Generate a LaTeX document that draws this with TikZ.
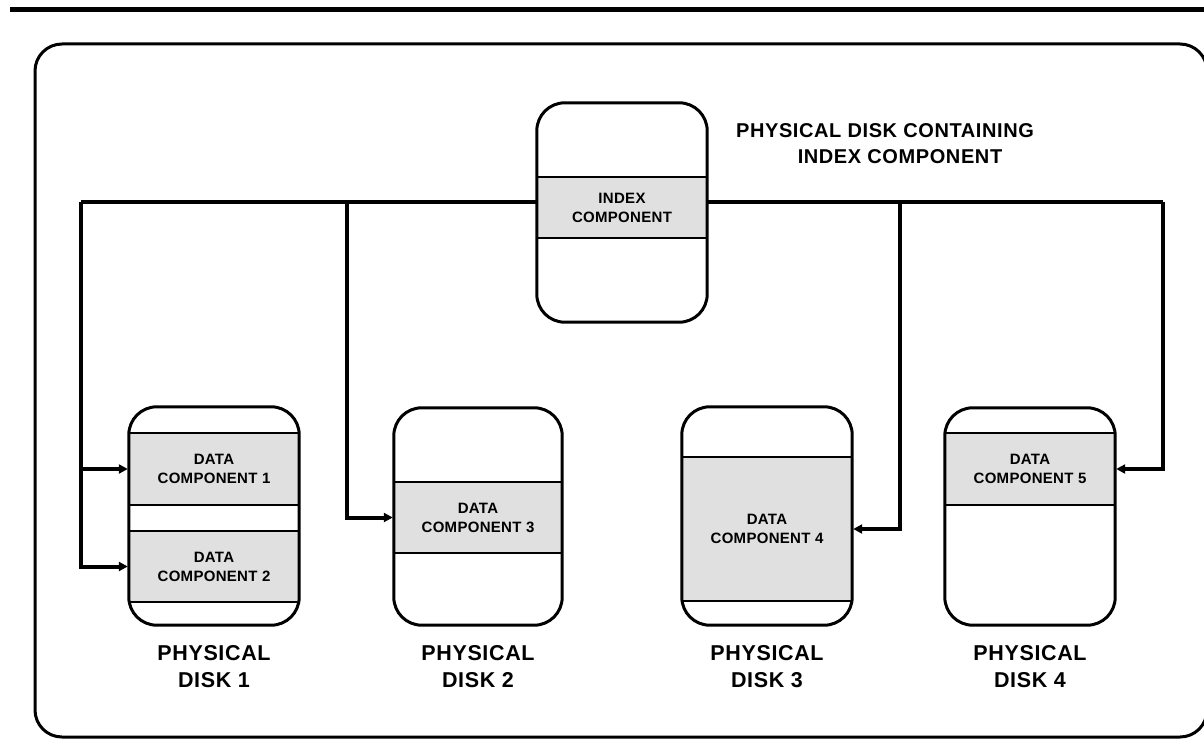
\documentclass[tikz,border=0pt]{standalone}
\usepackage{fontspec}
\setmainfont{Liberation Sans}
\usetikzlibrary{arrows.meta}
\definecolor{bandgray}{RGB}{224,224,224}
\tikzset{
  diskbox/.style={rectangle, rounded corners=28pt, minimum width=170pt, inner sep=0pt, draw=none},
  diskline/.style={line width=3pt, rounded corners=28pt},
  band/.style={rectangle, fill=bandgray, draw=black, line width=1.3pt, minimum width=174pt, inner sep=0pt, align=center,
    font=\fontsize{15}{19}\selectfont\bfseries\addfontfeature{LetterSpace=2}},
  disklabel/.style={align=center, font=\fontsize{21.5}{27}\selectfont\bfseries\addfontfeature{LetterSpace=3}},
  titlelabel/.style={font=\fontsize{20}{26}\selectfont\bfseries\addfontfeature{LetterSpace=3}},
  bus/.style={line width=4pt},
  busarrow/.style={line width=4pt, -{Triangle[length=9pt,width=9pt]}, shorten >=1pt},
}
\begin{document}
\begin{tikzpicture}[x=1pt,y=-1pt]
\useasboundingbox (0,0) rectangle (1204,749);
% top rule
\draw[line width=5pt] (10,9.5) -- (1210,9.5);
% outer frame
\draw[line width=3pt, rounded corners=27pt] (35,44) rectangle (1207,737);

% disk boxes (geometry)
\node[diskbox, minimum height=219pt] (dix) at (622,212.5) {};
\node[diskbox, minimum height=218pt] (d1) at (214,516) {};
\node[diskbox, minimum height=217pt, minimum width=168pt] (d2) at (478,516.5) {};
\node[diskbox, minimum height=218pt] (d3) at (767,516) {};
\node[diskbox, minimum height=217pt] (d4) at (1030,516.5) {};

% bands clipped to disks
\begin{scope}
\clip[rounded corners=28pt] (dix.north west) rectangle (dix.south east);
\node[band, minimum height=61pt] (ix) at (622,207.5) {INDEX\\COMPONENT};
\end{scope}
\begin{scope}
\clip[rounded corners=28pt] (d1.north west) rectangle (d1.south east);
\node[band, minimum height=72pt] (b1) at (214,469) {DATA\\COMPONENT 1};
\node[band, minimum height=71pt] (b2) at (214,566.5) {DATA\\COMPONENT 2};
\end{scope}
\begin{scope}
\clip[rounded corners=28pt] (d2.north west) rectangle (d2.south east);
\node[band, minimum height=71pt] (b3) at (478,517.5) {DATA\\COMPONENT 3};
\end{scope}
\begin{scope}
\clip[rounded corners=28pt] (d3.north west) rectangle (d3.south east);
\node[band, minimum height=144pt] (b4) at (767,529) {DATA\\COMPONENT 4};
\end{scope}
\begin{scope}
\clip[rounded corners=28pt] (d4.north west) rectangle (d4.south east);
\node[band, minimum height=72pt] (b5) at (1030,469) {DATA\\COMPONENT 5};
\end{scope}

% disk outlines
\foreach \d in {dix,d1,d2,d3,d4}
  \draw[diskline] (\d.north west) rectangle (\d.south east);

% bus junctions
\coordinate (j1) at (81,202);
\coordinate (j2) at (347,202);
\coordinate (j3) at (900,202);
\coordinate (j4) at (1163,202);

\draw[bus] (dix.west |- j1) -- (j1);
\draw[bus] (dix.east |- j4) -- (j4);
\draw[busarrow] (j1) |- (b1.west -| d1.west);
\draw[busarrow] (j1) |- (b2.west -| d1.west);
\draw[busarrow] (j2) |- (b3.west -| d2.west);
\draw[busarrow] (j3) |- (b4.east -| d3.east);
\draw[busarrow] (j4) |- (b5.east -| d4.east);

% labels
\node[disklabel] (l1) at (214,666.5) {PHYSICAL\\DISK 1};
\node[disklabel] (l2) at (478,666.5) {PHYSICAL\\DISK 2};
\node[disklabel] (l3) at (767,666.5) {PHYSICAL\\DISK 3};
\node[disklabel] (l4) at (1030,666.5) {PHYSICAL\\DISK 4};
\node[titlelabel] (t1) at (885,131) {PHYSICAL DISK CONTAINING};
\node[titlelabel] (t2) at (900,157) {INDEX COMPONENT};
\end{tikzpicture}
\end{document}
